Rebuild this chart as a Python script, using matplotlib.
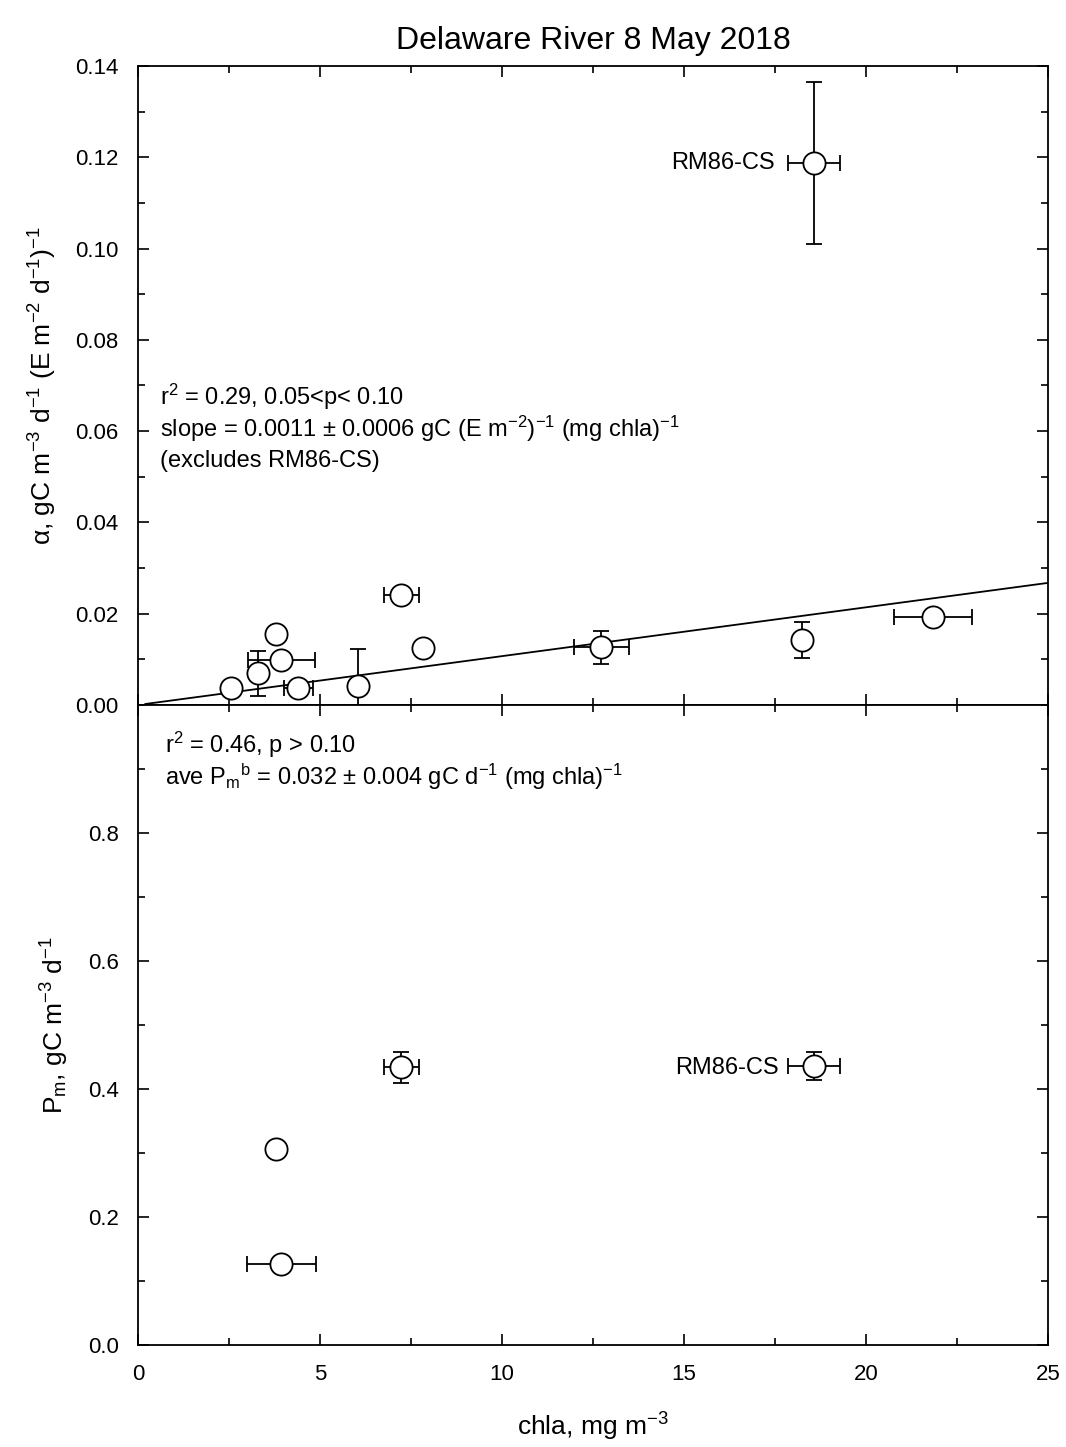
import matplotlib
matplotlib.use("Agg")
import matplotlib.pyplot as plt
import numpy as np
from matplotlib.ticker import MultipleLocator

plt.rcParams['font.family'] = ['Liberation Sans', 'DejaVu Sans']
plt.rcParams['mathtext.fontset'] = 'custom'
plt.rcParams['mathtext.rm'] = 'Liberation Sans'
plt.rcParams['mathtext.it'] = 'Liberation Sans'
plt.rcParams['mathtext.default'] = 'regular'

# top panel: alpha vs chla
a_chla  = [2.56, 3.30, 3.94, 3.80, 4.40, 6.04, 7.23, 7.83, 12.73, 18.24, 21.84]
a_val   = [0.0038, 0.0069, 0.0099, 0.0156, 0.0037, 0.0042, 0.0241, 0.0124, 0.0126, 0.0142, 0.0193]
a_xerr  = [0, 0, 0.93, 0, 0.40, 0, 0.48, 0, 0.75, 0, 1.06]
a_yerr  = [0, 0.0049, 0, 0, 0, 0.008, 0, 0, 0.0036, 0.004, 0]
a_out   = (18.57, 0.1188, 0.71, 0.0178)   # RM86-CS
fit_slope, fit_icpt = 0.00107, 0.0

# bottom panel: Pm vs chla
p_chla  = [3.80, 3.94, 7.23]
p_val   = [0.307, 0.126, 0.434]
p_xerr  = [0, 0.94, 0.48]
p_yerr  = [0, 0, 0.024]
p_out   = (18.57, 0.436, 0.71, 0.022)  # RM86-CS

fig = plt.figure(figsize=(10.66, 14.47), dpi=100)
ax1 = fig.add_axes([0.1295, 0.5128, 0.8536, 0.4416])
ax2 = fig.add_axes([0.1295, 0.0705, 0.8536, 0.4423])

mk = dict(fmt='o', ms=16, mfc='white', mec='black', mew=1.3, ecolor='black',
          elinewidth=1.3, capsize=6, capthick=1.3, zorder=3)

def draw_pts(ax, xs, ys, xe, ye):
    for x, y, dx, dy in zip(xs, ys, xe, ye):
        ax.errorbar(x, y, xerr=dx if dx else None, yerr=dy if dy else None, **mk)

draw_pts(ax1, a_chla, a_val, a_xerr, a_yerr)
ax1.errorbar(a_out[0], a_out[1], xerr=a_out[2], yerr=a_out[3], **mk)
xl = np.array([0.2, 25])
ax1.plot(xl, fit_slope * xl + fit_icpt, color='black', lw=1.3, zorder=2)

draw_pts(ax2, p_chla, p_val, p_xerr, p_yerr)
ax2.errorbar(p_out[0], p_out[1], xerr=p_out[2], yerr=p_out[3], **mk)

ax1.set_xlim(0, 25)
ax1.set_ylim(0, 0.14)
ax1.yaxis.set_minor_locator(MultipleLocator(0.01))
ax1.set_yticks(np.arange(0, 0.141, 0.02))
ax1.set_yticklabels(['%.2f' % v for v in np.arange(0, 0.141, 0.02)])
ax1.tick_params(labelbottom=False)

ax2.set_xlim(0, 25)
ax2.set_ylim(0, 1.0)
ax2.set_yticks(np.arange(0, 0.81, 0.2))
ax2.set_yticklabels(['%.1f' % v for v in np.arange(0, 0.81, 0.2)])
ax2.yaxis.set_minor_locator(MultipleLocator(0.1))

for ax in (ax1, ax2):
    ax.xaxis.set_major_locator(MultipleLocator(5))
    ax.xaxis.set_minor_locator(MultipleLocator(2.5))
    ax.tick_params(which='both', direction='in', top=True, right=True, labelsize=16, width=1.2)
    ax.tick_params(which='major', length=8)
    ax.tick_params(which='minor', length=5)
    ax.tick_params(axis='y', which='major', pad=14)
    ax.tick_params(axis='x', which='major', pad=14)
    for s in ax.spines.values():
        s.set_linewidth(1.3)

ax2.set_xticks(np.arange(0, 26, 5))

ax1.set_title('Delaware River 8 May 2018', fontsize=23, pad=12)
ax1.set_ylabel(r'α, gC m$^{-3}$ d$^{-1}$ (E m$^{-2}$ d$^{-1}$)$^{-1}$', fontsize=19, labelpad=12)
ax2.set_ylabel(r'P$_m$, gC m$^{-3}$ d$^{-1}$', fontsize=19, labelpad=12)
ax2.set_xlabel(r'chla, mg m$^{-3}$', fontsize=19, labelpad=18)

ax1.text(0.6, 0.0675, r'r$^2$ = 0.29, 0.05<p< 0.10', fontsize=17, va='center')
ax1.text(0.6, 0.0605, r'slope = 0.0011 ± 0.0006 gC (E m$^{-2}$)$^{-1}$ (mg chla)$^{-1}$', fontsize=17, va='center')
ax1.text(0.6, 0.0535, '(excludes RM86-CS)', fontsize=17, va='center')
ax1.text(17.5, 0.1188, 'RM86-CS', fontsize=17, va='center', ha='right')

ax2.text(0.75, 0.937, r'r$^2$ = 0.46, p > 0.10', fontsize=17, va='center')
ax2.text(0.75, 0.888, r'ave P$_m$$^b$ = 0.032 ± 0.004 gC d$^{-1}$ (mg chla)$^{-1}$', fontsize=17, va='center')
ax2.text(17.6, 0.433, 'RM86-CS', fontsize=17, va='center', ha='right')

fig.savefig('out.png', dpi=100)
